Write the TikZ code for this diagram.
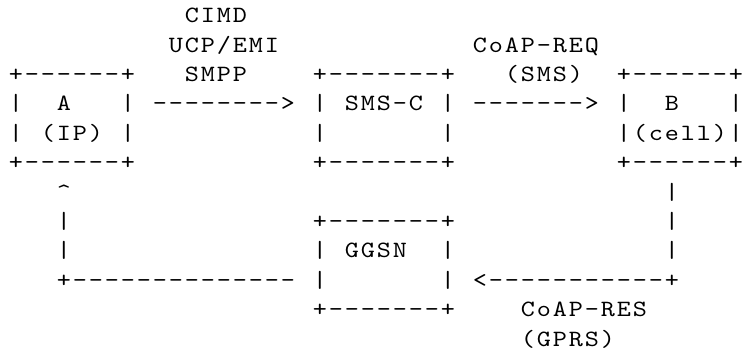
\documentclass[tikz,border=0pt]{standalone}
\usepackage{fontspec}
\newfontfamily\gridfont{lmmono10-regular.otf}[FakeStretch=1.15]
\newcommand\gridchars[1]{\ifx#1\relax\else\makebox[12pt][c]{#1}\expandafter\gridchars\fi}
\tikzset{
  ch/.style={anchor=base west, inner sep=0pt, outer sep=0pt, text=black,
    font=\gridfont\fontsize{17.5pt}{20pt}\selectfont},
}
\newcommand\At[4]{\node[ch] (#1) at ({8+16*#2},{22.7+29.4*#3}) {\gridchars#4\relax};}
\begin{document}
\begin{tikzpicture}[x=0.75pt,y=-0.75pt]
\useasboundingbox (0,0) rectangle (744,352);
% row 0
\At{lblCIMD}{11}{0}{CIMD}
% row 1
\At{lblUCP}{10}{1}{UCP/EMI}
\At{lblReq}{29}{1}{CoAP-REQ}
% row 2
\At{aTop}{0}{2}{+------+}
\At{lblSMPP}{11}{2}{SMPP}
\At{sTop}{19}{2}{+-------+}
\At{lblSMS}{31}{2}{(SMS)}
\At{bTop}{38}{2}{+------+}
% row 3
\At{aL3}{0}{3}{|}
\At{aName}{3}{3}{A}
\At{aR3}{7}{3}{|}
\At{arrAS}{9}{3}{-------->}
\At{sL3}{19}{3}{|}
\At{sName}{21}{3}{SMS-C}
\At{sR3}{27}{3}{|}
\At{arrSB}{29}{3}{------->}
\At{bL3}{38}{3}{|}
\At{bName}{41}{3}{B}
\At{bR3}{45}{3}{|}
% row 4
\At{aL4}{0}{4}{|}
\At{aSub}{2}{4}{(IP)}
\At{aR4}{7}{4}{|}
\At{sL4}{19}{4}{|}
\At{sR4}{27}{4}{|}
\At{bL4}{38}{4}{|}
\At{bSub}{39}{4}{(cell)}
\At{bR4}{45}{4}{|}
% row 5
\At{aBot}{0}{5}{+------+}
\At{sBot}{19}{5}{+-------+}
\At{bBot}{38}{5}{+------+}
% row 6
\At{upTip}{3}{6}{\textasciicircum}
\At{rV6}{41}{6}{|}
% row 7
\At{lV7}{3}{7}{|}
\At{gTop}{19}{7}{+-------+}
\At{rV7}{41}{7}{|}
% row 8
\At{lV8}{3}{8}{|}
\At{gL8}{19}{8}{|}
\At{gName}{21}{8}{GGSN}
\At{gR8}{27}{8}{|}
\At{rV8}{41}{8}{|}
% row 9
\At{lH9}{3}{9}{+--------------}
\At{gL9}{19}{9}{|}
\At{gR9}{27}{9}{|}
\At{rH9}{29}{9}{<-----------+}
% row 10
\At{gBot}{19}{10}{+-------+}
\At{lblRes}{32}{10}{CoAP-RES}
% row 11
\At{lblGPRS}{32}{11}{(GPRS)}
\end{tikzpicture}
\end{document}
